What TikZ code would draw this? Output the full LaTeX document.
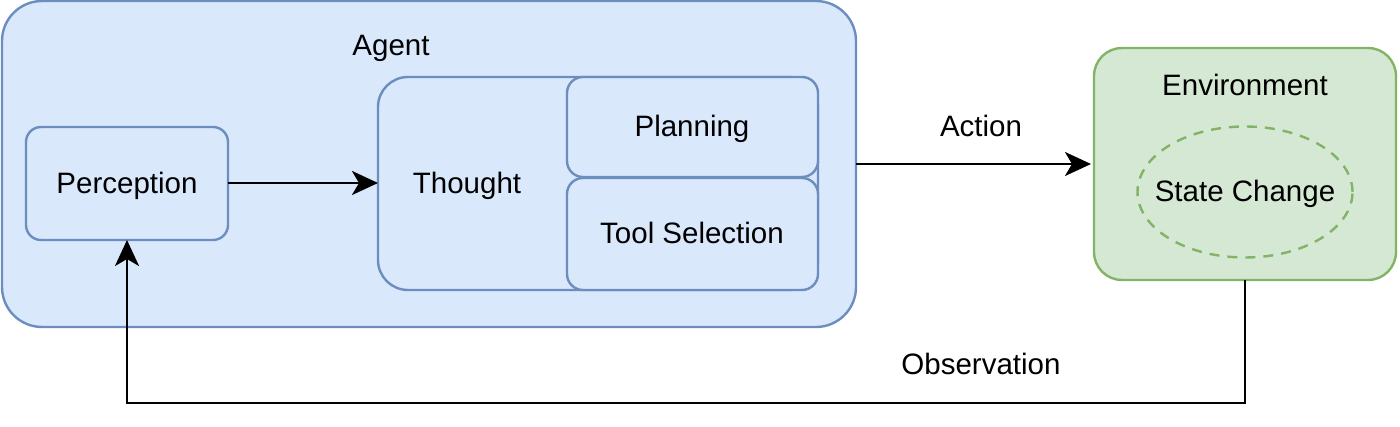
\documentclass[tikz,border=0pt]{standalone}
\usepackage{fontspec}
\setmainfont{Liberation Sans}
\usetikzlibrary{arrows.meta,shapes.geometric}
\definecolor{bluefill}{HTML}{DAE8FC}
\definecolor{blueline}{HTML}{6C8EBF}
\definecolor{greenfill}{HTML}{D5E8D4}
\definecolor{greenline}{HTML}{82B366}
\begin{document}
\begin{tikzpicture}[x=1pt,y=-1pt,
  font=\fontsize{29.5}{35}\selectfont,
  bluebox/.style={draw=blueline,fill=bluefill,line width=2.4pt},
  greenbox/.style={draw=greenline,fill=greenfill,line width=2.4pt},
  txt/.style={inner sep=0pt,anchor=base},
  conn/.style={line width=2.7pt,-{Stealth[length=26pt,width=24pt,inset=7pt]}}]
\useasboundingbox (0,0) rectangle (1400,427);
% Agent
\draw[bluebox,rounded corners=40pt] (2,1) rectangle (856,327);
\coordinate (agentR) at (856,164);
\node[txt] (agentlbl) at (391,56) {Agent};
% Perception
\draw[bluebox,rounded corners=15pt] (26,127) rectangle (228,240);
\node[txt] (perc) at (127,194) {Perception};
\coordinate (percR) at (228,183);
\coordinate (percB) at (127,240);
% Thought
\draw[bluebox,rounded corners=30pt] (378,77) rectangle (818,290);
\node[txt] (thought) at (467,194) {Thought};
\coordinate (thoughtL) at (378,183);
% Planning
\draw[bluebox,rounded corners=16pt] (567,77) rectangle (818,177);
\node[txt] (plan) at (692,137) {Planning};
% Tool Selection
\draw[bluebox,rounded corners=16pt] (567,178) rectangle (818,290);
\node[txt] (tool) at (692,244) {Tool Selection};
% Environment
\draw[greenbox,rounded corners=28pt] (1094,48) rectangle (1396,280);
\node[txt] (envlbl) at (1245,96) {Environment};
\coordinate (envL) at (1091,164);
\coordinate (envB) at (1245,280);
\node[ellipse,draw=greenline,line width=2.4pt,dash pattern=on 10pt off 8pt,
  minimum width=215pt,minimum height=131pt,inner sep=0pt] (state) at (1245,192) {};
\node[txt] (statelbl) at (1245,202) {State Change};
% connectors
\draw[conn] (percR) -- (thoughtL);
\draw[conn] (agentR) -- (envL);
\node[txt] (actlbl) at (981,137) {Action};
\coordinate (c1) at (1245,403);
\coordinate (c2) at (127,403);
\draw[conn] (envB) -- (c1) -- (c2) -- (percB);
\node[txt] (obslbl) at (981,374) {Observation};
\end{tikzpicture}
\end{document}
